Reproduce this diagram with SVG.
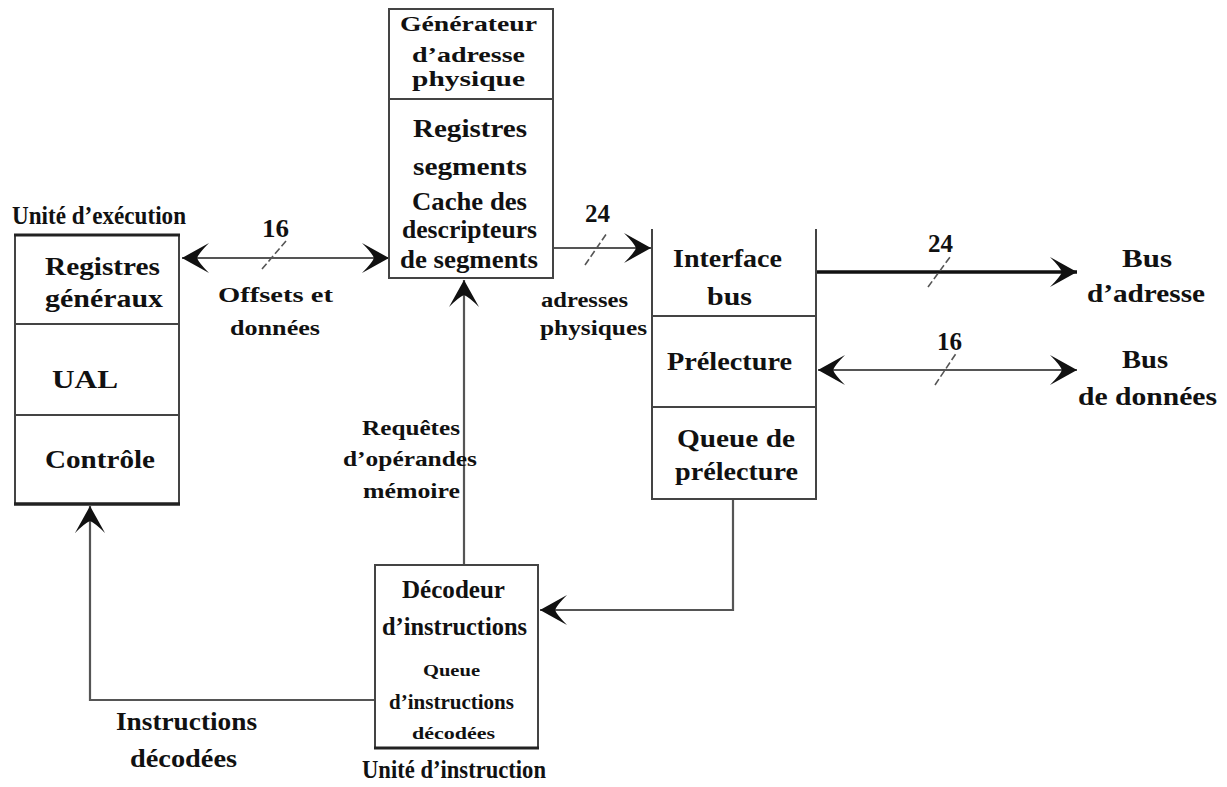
<svg xmlns="http://www.w3.org/2000/svg" width="1227" height="787" viewBox="0 0 1227 787">
<defs>
<style>
.t{font-family:"Liberation Serif","Times New Roman",serif;font-weight:bold;fill:#111;}
.s{font-size:17px;}
.m{font-size:20px;}
.l{font-size:26px;}
.box{fill:none;stroke:#444;stroke-width:2;}
.ln{fill:none;stroke:#555;stroke-width:2.2;}
.sl{fill:none;stroke:#555;stroke-width:1.6;stroke-dasharray:7 3;}
</style>
<marker id="arr" viewBox="-30 -17 32 34" refX="0" refY="0" markerWidth="32" markerHeight="34" markerUnits="userSpaceOnUse" orient="auto-start-reverse">
<path d="M0,0 L-27,-15 Q-17,-5 -15,0 Q-17,5 -27,15 Z" fill="#111"/>
</marker>
</defs>
<rect width="1227" height="787" fill="#fff"/>

<g id="connectors">
<line class="ln" x1="182" y1="258" x2="389" y2="258" marker-start="url(#arr)" marker-end="url(#arr)"/>
<line class="sl" x1="262" y1="269" x2="286" y2="241"/>
<line class="ln" x1="553" y1="248" x2="651" y2="248" marker-end="url(#arr)"/>
<line class="sl" x1="585" y1="265" x2="607" y2="233"/>
<line fill="none" stroke="#111" stroke-width="3.5" x1="816" y1="272" x2="1077" y2="272" marker-end="url(#arr)"/>
<line class="sl" x1="928" y1="287" x2="950" y2="257"/>
<line class="ln" x1="818" y1="370" x2="1077" y2="370" marker-start="url(#arr)" marker-end="url(#arr)"/>
<line class="sl" x1="935" y1="385" x2="957" y2="352"/>
<line class="ln" x1="464" y1="565" x2="464" y2="280" marker-end="url(#arr)"/>
<polyline class="ln" points="733,499 733,610 540,610" marker-end="url(#arr)"/>
<polyline class="ln" points="375,700 90,700 90,506" marker-end="url(#arr)"/>
<text class="t l" x="262" y="237" textLength="27" lengthAdjust="spacingAndGlyphs">16</text>
<text class="t m" x="218" y="302" textLength="115" lengthAdjust="spacingAndGlyphs">Offsets et</text>
<text class="t m" x="230" y="335" textLength="90" lengthAdjust="spacingAndGlyphs">données</text>
<text class="t l" x="585" y="222" textLength="25" lengthAdjust="spacingAndGlyphs">24</text>
<text class="t m" x="541" y="307" textLength="87" lengthAdjust="spacingAndGlyphs">adresses</text>
<text class="t m" x="540" y="335" textLength="107" lengthAdjust="spacingAndGlyphs">physiques</text>
<text class="t l" x="928" y="252" textLength="25" lengthAdjust="spacingAndGlyphs">24</text>
<text class="t l" x="937" y="350" textLength="25" lengthAdjust="spacingAndGlyphs">16</text>
<text class="t m" x="362" y="435" textLength="98" lengthAdjust="spacingAndGlyphs">Requêtes</text>
<text class="t m" x="343" y="466" textLength="134" lengthAdjust="spacingAndGlyphs">d’opérandes</text>
<text class="t m" x="363" y="498" textLength="97" lengthAdjust="spacingAndGlyphs">mémoire</text>
<text class="t l" x="116" y="730" textLength="141" lengthAdjust="spacingAndGlyphs">Instructions</text>
<text class="t l" x="130" y="767" textLength="107" lengthAdjust="spacingAndGlyphs">décodées</text>
</g>

<g id="unite-execution">
<text class="t l" x="12" y="224" textLength="174" lengthAdjust="spacingAndGlyphs">Unité d’exécution</text>
<rect class="box" x="15" y="235" width="164" height="269"/>
<line stroke="#222" stroke-width="3" x1="14" y1="235" x2="180" y2="235"/>
<line stroke="#222" stroke-width="3.5" x1="14" y1="504" x2="180" y2="504"/>
<line class="box" x1="15" y1="324" x2="179" y2="324"/>
<line class="box" x1="15" y1="415" x2="179" y2="415"/>
<text class="t l" x="45" y="275" textLength="115" lengthAdjust="spacingAndGlyphs">Registres</text>
<text class="t l" x="45" y="307" textLength="118" lengthAdjust="spacingAndGlyphs">généraux</text>
<text class="t l" x="52" y="388" textLength="66" lengthAdjust="spacingAndGlyphs">UAL</text>
<text class="t l" x="45" y="468" textLength="110" lengthAdjust="spacingAndGlyphs">Contrôle</text>
</g>

<g id="generateur-adresse">
<rect class="box" x="389" y="9" width="164" height="269"/>
<line class="box" x1="389" y1="99" x2="553" y2="99"/>
<text class="t m" x="400" y="31" textLength="137" lengthAdjust="spacingAndGlyphs">Générateur</text>
<text class="t m" x="412" y="62" textLength="113" lengthAdjust="spacingAndGlyphs">d’adresse</text>
<text class="t m" x="412" y="86" textLength="113" lengthAdjust="spacingAndGlyphs">physique</text>
<text class="t l" x="413" y="137" textLength="114" lengthAdjust="spacingAndGlyphs">Registres</text>
<text class="t l" x="413" y="175" textLength="114" lengthAdjust="spacingAndGlyphs">segments</text>
<text class="t l" x="412" y="210" textLength="115" lengthAdjust="spacingAndGlyphs">Cache des</text>
<text class="t l" x="402" y="238" textLength="135" lengthAdjust="spacingAndGlyphs">descripteurs</text>
<text class="t l" x="400" y="268" textLength="138" lengthAdjust="spacingAndGlyphs">de segments</text>
</g>

<g id="interface-bus">
<polyline class="box" points="652,229 652,499 816,499 816,229"/>
<line class="box" x1="652" y1="316" x2="816" y2="316"/>
<line class="box" x1="652" y1="407" x2="816" y2="407"/>
<text class="t l" x="673" y="267" textLength="109" lengthAdjust="spacingAndGlyphs">Interface</text>
<text class="t l" x="707" y="305" textLength="45" lengthAdjust="spacingAndGlyphs">bus</text>
<text class="t l" x="667" y="370" textLength="125" lengthAdjust="spacingAndGlyphs">Prélecture</text>
<text class="t l" x="677" y="447" textLength="118" lengthAdjust="spacingAndGlyphs">Queue de</text>
<text class="t l" x="675" y="480" textLength="123" lengthAdjust="spacingAndGlyphs">prélecture</text>
</g>

<g id="bus-adresse">
<text class="t l" x="1122" y="267" textLength="50" lengthAdjust="spacingAndGlyphs">Bus</text>
<text class="t l" x="1087" y="302" textLength="118" lengthAdjust="spacingAndGlyphs">d’adresse</text>
</g>

<g id="bus-donnees">
<text class="t l" x="1122" y="368" textLength="46" lengthAdjust="spacingAndGlyphs">Bus</text>
<text class="t l" x="1078" y="405" textLength="139" lengthAdjust="spacingAndGlyphs">de données</text>
</g>

<g id="unite-instruction">
<rect class="box" x="375" y="565" width="163" height="183"/>
<line stroke="#222" stroke-width="3" x1="374" y1="748" x2="539" y2="748"/>
<text class="t l" x="402" y="598" textLength="103" lengthAdjust="spacingAndGlyphs">Décodeur</text>
<text class="t l" x="382" y="635" textLength="145" lengthAdjust="spacingAndGlyphs">d’instructions</text>
<text class="t s" x="423" y="676" textLength="57" lengthAdjust="spacingAndGlyphs">Queue</text>
<text class="t m" x="389" y="709" textLength="125" lengthAdjust="spacingAndGlyphs">d’instructions</text>
<text class="t s" x="412" y="739" textLength="83" lengthAdjust="spacingAndGlyphs">décodées</text>
<text class="t l" x="362" y="778" textLength="184" lengthAdjust="spacingAndGlyphs">Unité d’instruction</text>
</g>
</svg>
